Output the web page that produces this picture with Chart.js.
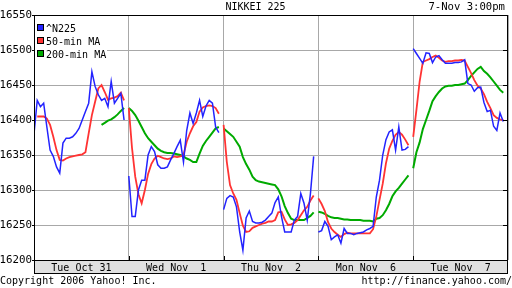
<!DOCTYPE html>
<html><head><meta charset="utf-8">
<script src="https://cdn.jsdelivr.net/npm/chart.js@4"></script>
<style>html,body{margin:0;padding:0;background:#fff;}canvas{display:block}</style>
</head><body>
<canvas id="c" width="512" height="288"></canvas>
<script>
const title = 'NIKKEI 225';
const stamp = '7-Nov 3:00pm';
const copyright = 'Copyright 2006 Yahoo! Inc.';
const site = 'http://finance.yahoo.com/';
const dayLabels = ['Tue Oct 31', 'Wed Nov  1', 'Thu Nov  2', 'Mon Nov  6', 'Tue Nov  7'];
const yTickValues = [16200, 16250, 16300, 16350, 16400, 16450, 16500, 16550];
const seriesNames = ['^N225', '50-min MA', '200-min MA'];

const n225 = [
  [16380,16428,16419,16424,16390,16357,16348,16333,16324,16367,16374,16374,16376,16381,16388,16400,16412,16424,16469,16448,16436,16428,16431,16419,16455,16424,16431,16438,16400],
  [16320,16262,16262,16300,16314,16314,16350,16362,16355,16336,16331,16331,16333,16343,16352,16362,16371,16340,16385,16410,16395,16410,16428,16405,16420,16428,16424,16390,16382],
  [16272,16288,16292,16290,16276,16240,16214,16260,16270,16255,16253,16253,16254,16257,16262,16267,16282,16290,16262,16240,16240,16240,16257,16262,16295,16281,16257,16295,16348],
  [16240,16242,16255,16248,16229,16233,16236,16224,16245,16238,16238,16236,16238,16239,16240,16243,16245,16248,16290,16314,16350,16372,16383,16386,16357,16390,16357,16358,16362],
  [16502,16495,16488,16481,16496,16495,16482,16490,16492,16486,16481,16481,16481,16482,16482,16483,16486,16452,16450,16441,16446,16447,16425,16412,16414,16391,16385,16410,16398]
];
const ma50 = [
  [null,16405,16405,16405,16402,16393,16376,16357,16343,16342,16345,16347,16348,16349,16350,16351,16354,16381,16407,16426,16445,16450,16440,16429,16431,16432,16434,16439,16428],
  [16417,16360,16319,16294,16281,16300,16323,16337,16345,16349,16347,16345,16344,16345,16348,16347,16348,16350,16369,16381,16391,16397,16412,16418,16420,16421,16420,16417,16409],
  [16393,16340,16307,16295,16286,16267,16249,16240,16241,16246,16248,16250,16252,16253,16255,16255,16257,16268,16269,16258,16250,16251,16253,16257,16264,16271,16276,16285,16292],
  [16288,16280,16270,16254,16245,16240,16236,16233,16237,16239,16238,16238,16238,16238,16238,16238,16238,16244,16262,16286,16309,16338,16359,16370,16379,16383,16379,16372,16364],
  [16376,16414,16455,16483,16485,16487,16490,16492,16489,16485,16483,16484,16484,16485,16485,16486,16485,16476,16467,16457,16449,16445,16437,16426,16417,16407,16403,16401,16400]
];
const ma200 = [
  [null,null,null,null,null,null,null,null,null,null,null,null,null,null,null,null,null,null,null,null,null,16393,16396,16399,16401,16404,16408,16413,16417],
  [16417,16413,16407,16399,16390,16381,16374,16369,16364,16359,16356,16354,16353,16353,16352,16351,16350,16348,16345,16343,16340,16340,16352,16363,16370,16376,16382,16388,16390],
  [16388,16384,16380,16376,16369,16362,16347,16337,16329,16319,16314,16312,16311,16310,16309,16308,16307,16301,16291,16277,16267,16259,16257,16257,16257,16257,16260,16263,16268],
  [16269,16268,16266,16263,16261,16260,16260,16259,16258,16258,16257,16257,16257,16257,16256,16256,16256,16255,16259,16260,16264,16271,16280,16291,16298,16303,16309,16315,16321],
  [16331,16354,16368,16387,16400,16413,16427,16434,16440,16445,16448,16449,16449,16450,16450,16451,16452,16457,16463,16468,16473,16476,16470,16466,16461,16455,16449,16443,16439]
];

const SESSION = 0.95; // fraction of each day slot covered by the trading session
function toPoints(days) {
  const pts = [];
  days.forEach((vals, d) => {
    const step = SESSION / (vals.length - 1);
    vals.forEach((v, j) => pts.push({x: d + j * step, y: v}));
    pts.push({x: d + 0.99, y: null});
  });
  return pts;
}

const FONT = '"DejaVu Sans Mono", "Liberation Mono", monospace';
const colors = ['#2323ff', '#ff3333', '#00aa00'];

const decor = {
  id: 'decor',
  beforeDraw(chart) {
    const {ctx, chartArea: a} = chart;
    ctx.save();
    ctx.fillStyle = '#fff';
    ctx.fillRect(0, 0, chart.width, chart.height);
    ctx.fillStyle = '#e0e0e0';
    ctx.fillRect(a.left, a.bottom, a.right - a.left, 13);
    ctx.restore();
  },
  afterDraw(chart) {
    const {ctx, chartArea: a} = chart;
    const xs = chart.scales.x, ys = chart.scales.y;
    ctx.save();
    ctx.strokeStyle = '#000';
    ctx.lineWidth = 1;
    ctx.strokeRect(a.left + 0.5, a.top + 0.5, a.right - a.left - 1, a.bottom + 13 - a.top);
    ctx.beginPath();
    ctx.moveTo(a.left, a.bottom + 0.5); ctx.lineTo(a.right, a.bottom + 0.5);
    yTickValues.forEach(v => {
      const y = Math.round(ys.getPixelForValue(v)) + 0.5;
      ctx.moveTo(a.right - 5, y); ctx.lineTo(a.right, y);
    });
    for (let d = 1; d < dayLabels.length; d++) {
      const x = Math.round(xs.getPixelForValue(d)) + 0.5;
      ctx.moveTo(x, a.bottom - 4); ctx.lineTo(x, a.bottom);
    }
    ctx.stroke();

    // legend
    ctx.fillStyle = '#fff';
    ctx.fillRect(a.left + 1, a.top + 1, 72, 46);
    ctx.font = '10px ' + FONT;
    ctx.textBaseline = 'alphabetic';
    ctx.textAlign = 'left';
    chart.data.datasets.forEach((ds, i) => {
      const top = a.top + 9 + i * 13;
      ctx.fillStyle = ds.borderColor;
      ctx.fillRect(a.left + 3, top, 7, 7);
      ctx.strokeStyle = '#000';
      ctx.strokeRect(a.left + 3.5, top + 0.5, 6, 6);
      ctx.fillStyle = '#000';
      ctx.fillText(ds.label, a.left + 12, top + 8);
    });

    // titles
    ctx.fillStyle = '#000';
    ctx.font = '10px ' + FONT;
    ctx.textAlign = 'center';
    ctx.fillText(title, 255.5, 10);
    ctx.textAlign = 'right';
    ctx.font = '10.6px ' + FONT;
    ctx.fillText(stamp, 505, 10);
    ctx.font = '10px ' + FONT;
    ctx.textAlign = 'left';
    ctx.fillText(copyright, 0, 284);
    ctx.textAlign = 'right';
    ctx.fillText(site, 512, 284);
    ctx.restore();
  }
};

new Chart(document.getElementById('c'), {
  type: 'line',
  data: {
    datasets: [
      {label: seriesNames[0], data: toPoints(n225), borderColor: colors[0], borderWidth: 1.5},
      {label: seriesNames[1], data: toPoints(ma50), borderColor: colors[1], borderWidth: 1.8},
      {label: seriesNames[2], data: toPoints(ma200), borderColor: colors[2], borderWidth: 2}
    ]
  },
  options: {
    responsive: false,
    animation: false,
    devicePixelRatio: 1,
    spanGaps: false,
    elements: {point: {radius: 0}, line: {tension: 0, borderJoinStyle: 'miter'}},
    layout: {padding: {left: 0, top: 15, right: 4, bottom: 15}},
    plugins: {legend: {display: false}, tooltip: {enabled: false}},
    scales: {
      x: {
        type: 'linear', min: 0, max: dayLabels.length,
        afterBuildTicks(scale) {
          const t = [];
          for (let i = 0; i <= dayLabels.length * 2; i++) t.push({value: i / 2});
          scale.ticks = t;
        },
        afterFit(scale) { scale.height = 13; },
        border: {display: false},
        grid: {
          color: ctx => (ctx.tick && Number.isInteger(ctx.tick.value)) ? '#a8a8a8' : 'rgba(0,0,0,0)',
          drawTicks: false, lineWidth: 1
        },
        ticks: {
          autoSkip: false, maxRotation: 0, padding: 2,
          color: '#000', font: {family: FONT, size: 10},
          callback: v => Number.isInteger(v) ? '' : dayLabels[Math.floor(v)]
        }
      },
      y: {
        min: yTickValues[0], max: yTickValues[yTickValues.length - 1],
        afterBuildTicks(scale) { scale.ticks = yTickValues.map(v => ({value: v})); },
        afterFit(scale) { scale.width = 34; },
        border: {display: false},
        grid: {color: '#a8a8a8', lineWidth: 1, drawTicks: true, tickLength: 2, tickColor: '#000'},
        ticks: {padding: 0, color: '#000', font: {family: FONT, size: 10.8}, callback: v => String(v)}
      }
    }
  },
  plugins: [decor]
});
</script>
</body></html>
